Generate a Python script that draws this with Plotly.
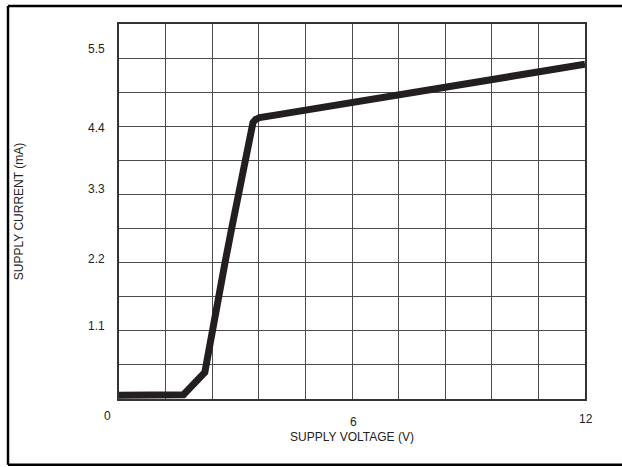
import plotly.graph_objects as go

# Data
voltage = [0.0, 1.66, 2.21, 2.39, 2.73, 2.90, 3.07, 3.24, 3.40, 3.45, 3.52, 3.62, 4.02, 12.0]
current = [0.06, 0.07, 0.43, 1.1, 2.2, 2.75, 3.3, 3.85, 4.4, 4.46, 4.51, 4.54, 4.58, 5.40]

y_grid_vals = [0.55 * i for i in range(12)]
y_label_vals = [1.1, 2.2, 3.3, 4.4, 5.5]
y_labels = ["1.1", "2.2", "3.3", "4.4", "5.5"]
x_grid_vals = [1.2 * i for i in range(11)]
x_label_vals = [0, 6, 12]
x_labels = ["0", "6", "12"]

INK = "#231f20"
GRID = "#4a4a4a"
TEXT = "#222"
FONT = "Liberation Sans, Arial, sans-serif"

fig = go.Figure()
fig.add_trace(go.Scatter(
    x=voltage, y=current, mode="lines",
    line=dict(color=INK, width=7),
    hoverinfo="skip", showlegend=False,
))

fig.update_layout(
    width=622, height=467,
    margin=dict(l=119, r=37, t=23.5, b=67.5),
    paper_bgcolor="white", plot_bgcolor="white",
    font=dict(family=FONT, size=12, color=TEXT),
    xaxis=dict(
        range=[0, 12], tickvals=x_grid_vals, ticktext=[""] * len(x_grid_vals),
        showgrid=True, gridcolor=GRID, gridwidth=1,
        zeroline=False, showline=True, linecolor="#333", linewidth=2, mirror=True,
        ticks="", fixedrange=True,
        title=dict(text="SUPPLY VOLTAGE (V)", font=dict(size=12), standoff=30),
    ),
    yaxis=dict(
        range=[0, 6.05], tickvals=y_grid_vals, ticktext=[""] * len(y_grid_vals),
        showgrid=True, gridcolor=GRID, gridwidth=1,
        zeroline=False, showline=True, linecolor="#333", linewidth=2, mirror=True,
        ticks="", fixedrange=True,
        title=dict(text="SUPPLY CURRENT (mA)", font=dict(size=12), standoff=88),
    ),
)

# y tick labels (slightly uneven, as printed in the reference)
y_label_shift = {"1.1": 4.5, "2.2": 3.5, "3.3": 5, "4.4": -1.5, "5.5": 9.5}
for val, txt in zip(y_label_vals, y_labels):
    fig.add_annotation(x=0, y=val, xref="x", yref="y", text=txt, showarrow=False,
                       xanchor="right", xshift=-12, yshift=y_label_shift[txt],
                       font=dict(size=12, color=TEXT))

# x tick labels (staggered as in the reference)
x_label_shift = {"0": (-12, -17), "6": (1, -23), "12": (1, -19.5)}
for val, txt in zip(x_label_vals, x_labels):
    dx, dy = x_label_shift[txt]
    fig.add_annotation(x=val, y=0, xref="x", yref="y", text=txt, showarrow=False,
                       xshift=dx, yshift=dy, font=dict(size=12, color=TEXT))

# outer frame (left, top, bottom rules)
frame = dict(type="line", xref="paper", yref="paper", line=dict(color="black", width=2.5))
fig.add_shape(**frame, x0=-0.2382, x1=-0.2382, y0=-0.1755, y1=1.048)
fig.add_shape(**frame, x0=-0.2382, x1=1.08, y0=1.048, y1=1.048)
fig.add_shape(**frame, x0=-0.2382, x1=1.08, y0=-0.1755, y1=-0.1755)

fig.write_html(
    "out.html", config={"displayModeBar": False},
    post_script=("document.body.style.margin='0';"
                 "document.body.style.overflow='hidden';"
                 "document.documentElement.style.overflow='hidden';"),
)
